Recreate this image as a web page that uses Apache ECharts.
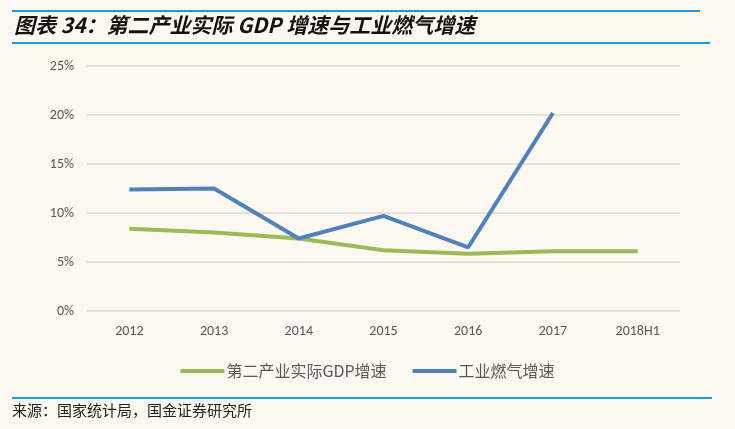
<!DOCTYPE html>
<html>
<head>
<meta charset="utf-8">
<script src="https://cdn.jsdelivr.net/npm/echarts@6/dist/echarts.min.js"></script>
<style>
  html, body { margin: 0; padding: 0; background: #fdf9f0; }
  #chart { width: 735px; height: 429px; }
</style>
</head>
<body>
<div id="chart"></div>
<script>
// 数据
const years = ['2012', '2013', '2014', '2015', '2016', '2017', '2018H1']
const gdpGrowth = [8.4, 8.0, 7.4, 6.2, 5.85, 6.1, 6.1]
const gasGrowth = [12.4, 12.5, 7.4, 9.7, 6.5, 20.2, null]
const yTicks = [0, 5, 10, 15, 20, 25]

const chart = echarts.init(document.getElementById('chart'))

const option = {
  backgroundColor: '#fdf9f0',
  animation: false,
  graphic: [
    { type: 'rect', shape: { x: 12, y: 10, width: 688, height: 2 }, style: { fill: '#1a9ad6' } },
    { type: 'text', left: 14, top: 15,
      style: { text: '图表 34：第二产业实际 GDP 增速与工业燃气增速', font: 'italic bold 21px "Noto Sans CJK SC"', fill: '#111' } },
    { type: 'rect', shape: { x: 12, y: 42, width: 698, height: 2 }, style: { fill: '#1a9ad6' } },
    { type: 'rect', shape: { x: 12, y: 397, width: 700, height: 2 }, style: { fill: '#1a9ad6' } },
    { type: 'text', left: 12, top: 403,
      style: { text: '来源：国家统计局，国金证券研究所', font: '15px "Noto Sans CJK SC"', fill: '#222' } }
  ],
  legend: {
    top: 358,
    left: 'center',
    itemWidth: 44,
    itemHeight: 4,
    itemGap: 26,
    icon: 'rect',
    textStyle: { color: '#595959', fontSize: 16, fontFamily: 'Noto Sans CJK SC', padding: [0, 0, 0, -3] },
    data: ['第二产业实际GDP增速', '工业燃气增速']
  },
  grid: { left: 87, right: 55, top: 66, bottom: 118 },
  xAxis: {
    type: 'category',
    data: years,
    axisLine: { show: false },
    axisTick: { show: false },
    axisLabel: { color: '#595959', fontSize: 14, margin: 13, fontFamily: 'Calibri, Carlito, Lato, sans-serif' }
  },
  yAxis: {
    type: 'value',
    min: yTicks[0],
    max: yTicks[yTicks.length - 1],
    interval: 5,
    axisLabel: { formatter: '{value}%', color: '#595959', fontSize: 14, margin: 13, fontFamily: 'Calibri, Carlito, Lato, sans-serif' },
    splitLine: { lineStyle: { color: '#d9d9d9', width: 1.5 } }
  },
  series: [
    {
      name: '第二产业实际GDP增速',
      type: 'line',
      data: gdpGrowth,
      symbol: 'none',
      lineStyle: { color: '#9bbb59', width: 4 },
      itemStyle: { color: '#9bbb59' }
    },
    {
      name: '工业燃气增速',
      type: 'line',
      data: gasGrowth,
      symbol: 'none',
      lineStyle: { color: '#4f81bd', width: 4 },
      itemStyle: { color: '#4f81bd' }
    }
  ]
}

chart.setOption(option)
</script>
</body>
</html>
